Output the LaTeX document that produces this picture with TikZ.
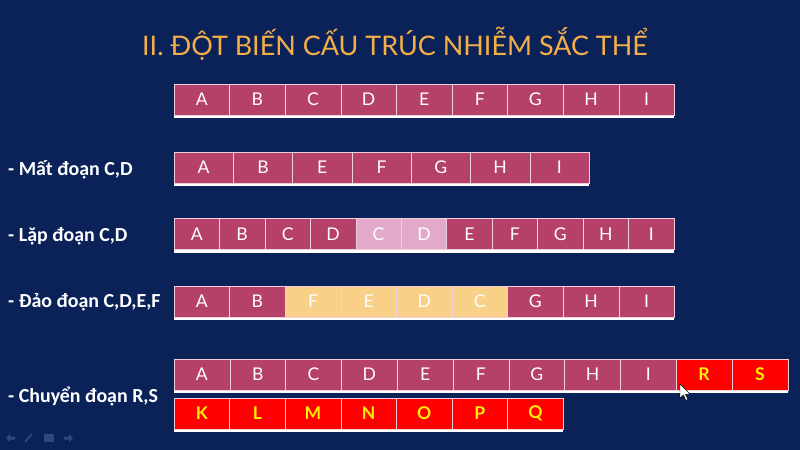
\documentclass[tikz,border=0pt]{standalone}
\usepackage{fontspec}
\setmainfont{Carlito}
\newfontfamily\genefont{Lato}
\definecolor{slidebg}{HTML}{0B2259}
\definecolor{genemag}{HTML}{B5416A}
\definecolor{genepink}{HTML}{E2A9CB}
\definecolor{geneyel}{HTML}{F9D088}
\definecolor{genered}{HTML}{FF0000}
\definecolor{genelin}{HTML}{F0D0DC}
\definecolor{titlegold}{HTML}{F4AE48}
\definecolor{navgray}{HTML}{34477A}
\begin{document}
\begin{tikzpicture}[x=0.03cm, y=-0.03cm,
    gene/.style={draw=genelin, line width=0.5pt, fill=#1, minimum height=31*0.03cm,
      inner sep=0pt, font=\genefont\fontsize{15}{15}\selectfont, text=white},
    gene/.default=genemag,
    moved/.style={gene=genered, text=yellow!95!orange, font=\genefont\bfseries\fontsize{15}{15}\selectfont},
    rowlabel/.style={anchor=west, inner sep=0pt, text=white,
      font=\bfseries\fontsize{17}{18}\selectfont}]

	% Slide
	\useasboundingbox[fill=slidebg] (0,0) rectangle (800,450);
	\node[text=titlegold, font=\genefont\fontsize{23}{23}\selectfont] (title) at (395,44)
		{II. ĐỘT BIẾN CẤU TRÚC NHIỄM SẮC THỂ};

	% Normal chromosome
	\fill[white] (174,115) rectangle (674,118);
	\foreach \g [count=\i] in {A,B,C,D,E,F,G,H,I}
	\node[gene, minimum width=55.6*0.03cm] (r1-\i) at ({174+(\i-0.5)*55.6},99.5) {\g};

	% Deletion
	\node[rowlabel] (lbl2) at (8,170) {- Mất đoạn C,D};
	\fill[white] (174,183) rectangle (589,186);
	\foreach \g [count=\i] in {A,B,E,F,G,H,I}
	\node[gene, minimum width=59.3*0.03cm] (r2-\i) at ({174+(\i-0.5)*59.3},167.5) {\g};

	% Duplication
	\node[rowlabel] (lbl3) at (8,236) {- Lặp đoạn C,D};
	\fill[white] (174,250) rectangle (674,253);
	\foreach \g/\c [count=\i] in {A/genemag,B/genemag,C/genemag,D/genemag,C/genepink,D/genepink,
		E/genemag,F/genemag,G/genemag,H/genemag,I/genemag}
	\node[gene=\c, minimum width=45.45*0.03cm] (r3-\i) at ({174+(\i-0.5)*45.45},234) {\g};

	% Inversion
	\node[rowlabel] (lbl4) at (8,302) {- Đảo đoạn C,D,E,F};
	\fill[white] (174,317) rectangle (674,320);
	\foreach \g/\c [count=\i] in {A/genemag,B/genemag,F/geneyel,E/geneyel,D/geneyel,C/geneyel,
		G/genemag,H/genemag,I/genemag}
	\node[gene=\c, minimum width=55.6*0.03cm] (r4-\i) at ({174+(\i-0.5)*55.6},301.5) {\g};

	% Translocation
	\node[rowlabel] (lbl5) at (8,396) {- Chuyển đoạn R,S};
	\fill[white] (174,390) rectangle (788,393);
	\foreach \g [count=\i] in {A,B,C,D,E,F,G,H,I}
	\node[gene, minimum width=55.8*0.03cm] (r5-\i) at ({174+(\i-0.5)*55.8},374.5) {\g};
	\foreach \g [count=\i from 10] in {R,S}
	\node[moved, minimum width=55.8*0.03cm] (r5-\i) at ({174+(\i-0.5)*55.8},374.5) {\g};
	\fill[white] (174,429) rectangle (563,432);
	\foreach \g [count=\i] in {K,L,M,N,O,P,Q}
	\node[moved, minimum width=55.6*0.03cm] (r6-\i) at ({174+(\i-0.5)*55.6},413.5) {\g};

	% Mouse pointer
	\draw[black, fill=white, line width=0.4pt] (680,384) -- (680,398) -- (683.5,395) -- (686,400.5)
		-- (688,399.5) -- (685.5,394.5) -- (690,394) -- cycle;

	% Slide show controls
	\fill[navgray] (6,438) -- (10,434) -- (10,436.5) -- (15,436.5) -- (15,439.5) -- (10,439.5)
		-- (10,442) -- cycle;
	\draw[navgray, line width=1.5pt] (25,442) -- (32,434);
	\fill[navgray] (44,434) rectangle (54,442);
	\fill[navgray] (73,438) -- (69,434) -- (69,436.5) -- (64,436.5) -- (64,439.5) -- (69,439.5)
		-- (69,442) -- cycle;
\end{tikzpicture}
\end{document}
